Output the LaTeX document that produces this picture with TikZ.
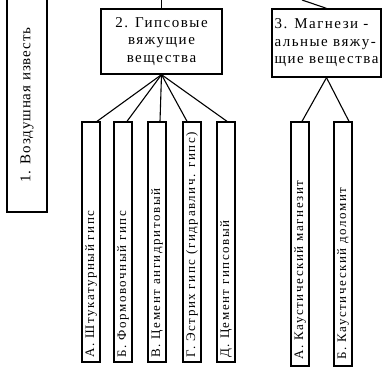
\documentclass[tikz,border=0pt]{standalone}
\usepackage{fontspec}
\setmainfont{Liberation Serif}
\newfontfamily\onefont[LetterSpace=6]{Liberation Serif}
\newfontfamily\lsfont[LetterSpace=10]{Liberation Serif}
\newfontfamily\chfont[LetterSpace=12]{Liberation Serif}
\usetikzlibrary{calc}
\tikzset{
  frame/.style={draw, line width=1.3pt, rectangle, inner sep=0pt},
  cbox/.style={frame, minimum width=18pt, minimum height=240pt},
  ctext/.style={rotate=90, anchor=west, inner sep=0pt, font=\chfont\fontsize{13}{15}\selectfont},
  conn/.style={line width=1.1pt},
}
\begin{document}
\begin{tikzpicture}[x=1pt,y=-1pt]
\useasboundingbox (0,0) rectangle (385,379);
\clip (0,0) rectangle (385,379);
% box 1
\node[frame, minimum width=40pt, minimum height=220pt] (b1) at (27,102) {};
\node[rotate=90, inner sep=0pt, font=\onefont\fontsize{15}{17}\selectfont] (t1) at (27,105) {1. Воздушная известь};
% box 2
\node[frame, minimum width=121pt, minimum height=65pt, align=center,
      font=\lsfont\fontsize{15}{17.5}\selectfont] (b2) at (161.5,41.5)
  {2. Гипсовые\\вяжущие\\вещества};
% box 3
\node[frame, minimum width=109pt, minimum height=68pt, align=left,
      font=\lsfont\fontsize{15}{17.5}\selectfont] (b3) at (326.5,43)
  {3. Магнези -\\альные вяжу-\\щие вещества};
\coordinate (top2) at (161.5,0);
\coordinate (top3) at (302,0);
\draw[conn] (b2.north) -- (top2);
\draw[conn] (b3.north) -- (top3);
% gypsum children
\node[cbox] (g1) at (91,242) {};
\node[cbox] (g2) at (123,242) {};
\node[cbox] (g3) at (157,242) {};
\node[cbox] (g4) at (192,242) {};
\node[cbox] (g5) at (226,242) {};
\path (g1.south) ++(0,-5) node[ctext] {А. Штукатурный гипс};
\path (g2.south) ++(0,-5) node[ctext] {Б. Формовочный гипс};
\path (g3.south) ++(0,-5) node[ctext] {В. Цемент ангидритовый};
\path (g4.south) ++(0,-5) node[ctext] {Г. Эстрих гипс (гидравлич. гипс)};
\path (g5.south) ++(0,-5) node[ctext] {Д. Цемент гипсовый};
% magnesia children
\node[cbox, minimum height=244pt] (m1) at (300,244) {};
\node[cbox, minimum height=244pt] (m2) at (343,244) {};
\path (m1.south) ++(0,-7) node[ctext] {А. Каустический магнезит};
\path (m2.south) ++(0,-7) node[ctext] {Б. Каустический доломит};
% connectors
\draw[conn] (b2.south) -- ([xshift=6pt]g1.north);
\draw[conn] (b2.south) -- ([xshift=4pt]g2.north);
\draw[conn] (b2.south) -- ([xshift=3pt]g3.north);
\draw[conn] (b2.south) -- ([xshift=-5pt]g4.north);
\draw[conn] (b2.south) -- ([xshift=1pt]g5.north);
\draw[conn] (b3.south) -- ([xshift=2pt]m1.north);
\draw[conn] (b3.south) -- ([xshift=6pt]m2.north);
\end{tikzpicture}
\end{document}
